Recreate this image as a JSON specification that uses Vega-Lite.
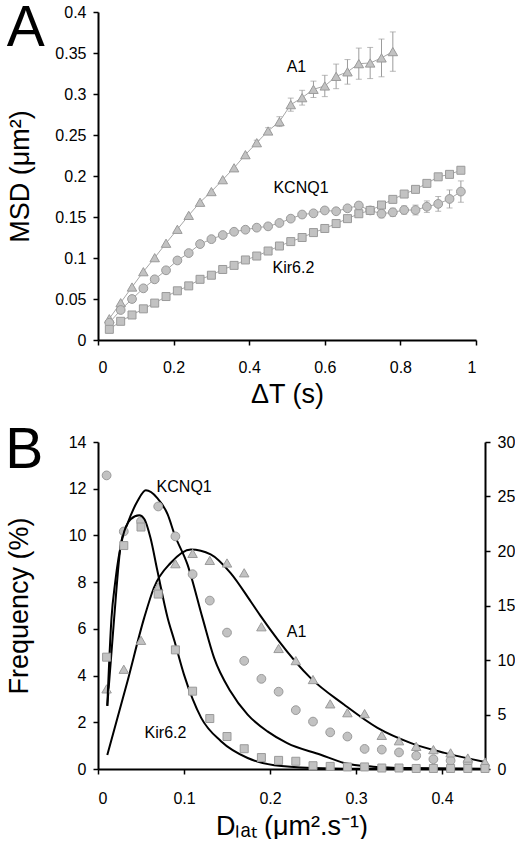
{
  "$schema": "https://vega.github.io/schema/vega-lite/v6.json",
  "background": "white",
  "padding": {"left": 5, "top": 0, "right": 0, "bottom": 0},
  "spacing": 15,
  "config": {
    "font": "Liberation Sans",
    "view": {"stroke": null},
    "axis": {
      "grid": false,
      "domainColor": "black",
      "domainWidth": 2,
      "tickColor": "black",
      "tickWidth": 1.5,
      "tickSize": 5,
      "labelFont": "Liberation Sans",
      "labelFontSize": 16,
      "labelColor": "black",
      "labelPadding": 7,
      "titleFont": "Liberation Sans",
      "titleFontSize": 27,
      "titleFontWeight": "normal",
      "titleColor": "black"
    },
    "title": {"font": "Liberation Sans", "fontSize": 57, "fontWeight": "normal", "anchor": "start", "color": "black", "frame": "bounds"},
    "text": {"font": "Liberation Sans", "fontSize": 16, "color": "black"}
  },
  "datasets": {
    "msd": [
      {"series": "A1", "t": 0.03, "msd": 0.026, "err": 0},
      {"series": "A1", "t": 0.06, "msd": 0.0455, "err": 0},
      {"series": "A1", "t": 0.09, "msd": 0.0646, "err": 0},
      {"series": "A1", "t": 0.12, "msd": 0.0833, "err": 0},
      {"series": "A1", "t": 0.15, "msd": 0.1004, "err": 0},
      {"series": "A1", "t": 0.18, "msd": 0.118, "err": 0},
      {"series": "A1", "t": 0.21, "msd": 0.135, "err": 0},
      {"series": "A1", "t": 0.24, "msd": 0.152, "err": 0},
      {"series": "A1", "t": 0.27, "msd": 0.168, "err": 0},
      {"series": "A1", "t": 0.30, "msd": 0.181, "err": 0},
      {"series": "A1", "t": 0.33, "msd": 0.1955, "err": 0},
      {"series": "A1", "t": 0.36, "msd": 0.210, "err": 0},
      {"series": "A1", "t": 0.39, "msd": 0.226, "err": 0},
      {"series": "A1", "t": 0.42, "msd": 0.2406, "err": 0.003},
      {"series": "A1", "t": 0.45, "msd": 0.2549, "err": 0.004},
      {"series": "A1", "t": 0.48, "msd": 0.2663, "err": 0.006},
      {"series": "A1", "t": 0.51, "msd": 0.287, "err": 0.008},
      {"series": "A1", "t": 0.54, "msd": 0.2955, "err": 0.009},
      {"series": "A1", "t": 0.57, "msd": 0.3057, "err": 0.010},
      {"series": "A1", "t": 0.60, "msd": 0.3098, "err": 0.013},
      {"series": "A1", "t": 0.63, "msd": 0.3215, "err": 0.015},
      {"series": "A1", "t": 0.66, "msd": 0.327, "err": 0.015},
      {"series": "A1", "t": 0.69, "msd": 0.337, "err": 0.019},
      {"series": "A1", "t": 0.72, "msd": 0.3378, "err": 0.019},
      {"series": "A1", "t": 0.75, "msd": 0.344, "err": 0.023},
      {"series": "A1", "t": 0.78, "msd": 0.3517, "err": 0.024},
      {"series": "KCNQ1", "t": 0.03, "msd": 0.021, "err": 0},
      {"series": "KCNQ1", "t": 0.06, "msd": 0.0366, "err": 0},
      {"series": "KCNQ1", "t": 0.09, "msd": 0.050, "err": 0},
      {"series": "KCNQ1", "t": 0.12, "msd": 0.063, "err": 0},
      {"series": "KCNQ1", "t": 0.15, "msd": 0.074, "err": 0},
      {"series": "KCNQ1", "t": 0.18, "msd": 0.085, "err": 0},
      {"series": "KCNQ1", "t": 0.21, "msd": 0.097, "err": 0},
      {"series": "KCNQ1", "t": 0.24, "msd": 0.106, "err": 0},
      {"series": "KCNQ1", "t": 0.27, "msd": 0.117, "err": 0},
      {"series": "KCNQ1", "t": 0.30, "msd": 0.123, "err": 0},
      {"series": "KCNQ1", "t": 0.33, "msd": 0.128, "err": 0},
      {"series": "KCNQ1", "t": 0.36, "msd": 0.132, "err": 0},
      {"series": "KCNQ1", "t": 0.39, "msd": 0.1345, "err": 0},
      {"series": "KCNQ1", "t": 0.42, "msd": 0.137, "err": 0},
      {"series": "KCNQ1", "t": 0.45, "msd": 0.1386, "err": 0},
      {"series": "KCNQ1", "t": 0.48, "msd": 0.1427, "err": 0},
      {"series": "KCNQ1", "t": 0.51, "msd": 0.148, "err": 0},
      {"series": "KCNQ1", "t": 0.54, "msd": 0.153, "err": 0},
      {"series": "KCNQ1", "t": 0.57, "msd": 0.1545, "err": 0},
      {"series": "KCNQ1", "t": 0.60, "msd": 0.158, "err": 0},
      {"series": "KCNQ1", "t": 0.63, "msd": 0.157, "err": 0},
      {"series": "KCNQ1", "t": 0.66, "msd": 0.1606, "err": 0.002},
      {"series": "KCNQ1", "t": 0.69, "msd": 0.164, "err": 0.004},
      {"series": "KCNQ1", "t": 0.72, "msd": 0.158, "err": 0.004},
      {"series": "KCNQ1", "t": 0.75, "msd": 0.154, "err": 0.005},
      {"series": "KCNQ1", "t": 0.78, "msd": 0.1557, "err": 0.005},
      {"series": "KCNQ1", "t": 0.81, "msd": 0.1585, "err": 0.005},
      {"series": "KCNQ1", "t": 0.84, "msd": 0.1585, "err": 0.006},
      {"series": "KCNQ1", "t": 0.87, "msd": 0.1626, "err": 0.007},
      {"series": "KCNQ1", "t": 0.90, "msd": 0.166, "err": 0.009},
      {"series": "KCNQ1", "t": 0.93, "msd": 0.172, "err": 0.011},
      {"series": "KCNQ1", "t": 0.96, "msd": 0.181, "err": 0.013},
      {"series": "Kir6.2", "t": 0.03, "msd": 0.013, "err": 0},
      {"series": "Kir6.2", "t": 0.06, "msd": 0.0228, "err": 0},
      {"series": "Kir6.2", "t": 0.09, "msd": 0.0305, "err": 0},
      {"series": "Kir6.2", "t": 0.12, "msd": 0.038, "err": 0},
      {"series": "Kir6.2", "t": 0.15, "msd": 0.045, "err": 0},
      {"series": "Kir6.2", "t": 0.18, "msd": 0.053, "err": 0},
      {"series": "Kir6.2", "t": 0.21, "msd": 0.060, "err": 0},
      {"series": "Kir6.2", "t": 0.24, "msd": 0.066, "err": 0},
      {"series": "Kir6.2", "t": 0.27, "msd": 0.074, "err": 0},
      {"series": "Kir6.2", "t": 0.30, "msd": 0.079, "err": 0},
      {"series": "Kir6.2", "t": 0.33, "msd": 0.086, "err": 0},
      {"series": "Kir6.2", "t": 0.36, "msd": 0.091, "err": 0},
      {"series": "Kir6.2", "t": 0.39, "msd": 0.0976, "err": 0},
      {"series": "Kir6.2", "t": 0.42, "msd": 0.1024, "err": 0},
      {"series": "Kir6.2", "t": 0.45, "msd": 0.1085, "err": 0},
      {"series": "Kir6.2", "t": 0.48, "msd": 0.1146, "err": 0},
      {"series": "Kir6.2", "t": 0.51, "msd": 0.120, "err": 0},
      {"series": "Kir6.2", "t": 0.54, "msd": 0.125, "err": 0},
      {"series": "Kir6.2", "t": 0.57, "msd": 0.131, "err": 0},
      {"series": "Kir6.2", "t": 0.60, "msd": 0.136, "err": 0},
      {"series": "Kir6.2", "t": 0.63, "msd": 0.142, "err": 0},
      {"series": "Kir6.2", "t": 0.66, "msd": 0.148, "err": 0},
      {"series": "Kir6.2", "t": 0.69, "msd": 0.154, "err": 0},
      {"series": "Kir6.2", "t": 0.72, "msd": 0.158, "err": 0},
      {"series": "Kir6.2", "t": 0.75, "msd": 0.1646, "err": 0},
      {"series": "Kir6.2", "t": 0.78, "msd": 0.1715, "err": 0},
      {"series": "Kir6.2", "t": 0.81, "msd": 0.178, "err": 0},
      {"series": "Kir6.2", "t": 0.84, "msd": 0.1837, "err": 0},
      {"series": "Kir6.2", "t": 0.87, "msd": 0.191, "err": 0},
      {"series": "Kir6.2", "t": 0.90, "msd": 0.199, "err": 0},
      {"series": "Kir6.2", "t": 0.93, "msd": 0.202, "err": 0.003},
      {"series": "Kir6.2", "t": 0.96, "msd": 0.207, "err": 0.004}
    ],
    "labelsA": [
      {"label": "A1", "t": 0.525, "msd": 0.3335},
      {"label": "KCNQ1", "t": 0.537, "msd": 0.1848},
      {"label": "Kir6.2", "t": 0.517, "msd": 0.0872}
    ],
    "freq": [
      {"series": "KCNQ1", "d": 0.01, "freq": 12.57},
      {"series": "KCNQ1", "d": 0.03, "freq": 10.17},
      {"series": "KCNQ1", "d": 0.05, "freq": 10.6},
      {"series": "KCNQ1", "d": 0.07, "freq": 11.24},
      {"series": "KCNQ1", "d": 0.09, "freq": 9.96},
      {"series": "KCNQ1", "d": 0.11, "freq": 8.34},
      {"series": "KCNQ1", "d": 0.13, "freq": 7.21},
      {"series": "KCNQ1", "d": 0.15, "freq": 5.84},
      {"series": "KCNQ1", "d": 0.17, "freq": 4.63},
      {"series": "KCNQ1", "d": 0.19, "freq": 3.86},
      {"series": "KCNQ1", "d": 0.21, "freq": 3.31},
      {"series": "KCNQ1", "d": 0.23, "freq": 2.52},
      {"series": "KCNQ1", "d": 0.25, "freq": 2.03},
      {"series": "KCNQ1", "d": 0.27, "freq": 1.57},
      {"series": "KCNQ1", "d": 0.29, "freq": 1.39},
      {"series": "KCNQ1", "d": 0.31, "freq": 0.86},
      {"series": "KCNQ1", "d": 0.33, "freq": 0.83},
      {"series": "KCNQ1", "d": 0.35, "freq": 0.71},
      {"series": "KCNQ1", "d": 0.37, "freq": 0.57},
      {"series": "KCNQ1", "d": 0.39, "freq": 0.42},
      {"series": "KCNQ1", "d": 0.41, "freq": 0.36},
      {"series": "KCNQ1", "d": 0.43, "freq": 0.28},
      {"series": "A1", "d": 0.01, "freq": 3.43},
      {"series": "A1", "d": 0.03, "freq": 4.27},
      {"series": "A1", "d": 0.05, "freq": 5.51},
      {"series": "A1", "d": 0.07, "freq": 7.8},
      {"series": "A1", "d": 0.09, "freq": 8.79},
      {"series": "A1", "d": 0.11, "freq": 9.23},
      {"series": "A1", "d": 0.13, "freq": 8.93},
      {"series": "A1", "d": 0.15, "freq": 8.82},
      {"series": "A1", "d": 0.17, "freq": 8.4},
      {"series": "A1", "d": 0.19, "freq": 6.09},
      {"series": "A1", "d": 0.21, "freq": 5.16},
      {"series": "A1", "d": 0.23, "freq": 4.64},
      {"series": "A1", "d": 0.25, "freq": 3.83},
      {"series": "A1", "d": 0.27, "freq": 2.79},
      {"series": "A1", "d": 0.29, "freq": 2.41},
      {"series": "A1", "d": 0.31, "freq": 2.37},
      {"series": "A1", "d": 0.33, "freq": 1.44},
      {"series": "A1", "d": 0.35, "freq": 1.21},
      {"series": "A1", "d": 0.37, "freq": 0.97},
      {"series": "A1", "d": 0.39, "freq": 0.83},
      {"series": "A1", "d": 0.41, "freq": 0.69},
      {"series": "A1", "d": 0.43, "freq": 0.47},
      {"series": "A1", "d": 0.45, "freq": 0.3}
    ],
    "freqKir": [
      {"series": "Kir6.2", "d": 0.01, "freq": 10.26},
      {"series": "Kir6.2", "d": 0.03, "freq": 20.5},
      {"series": "Kir6.2", "d": 0.05, "freq": 22.2},
      {"series": "Kir6.2", "d": 0.07, "freq": 16.05},
      {"series": "Kir6.2", "d": 0.09, "freq": 10.93},
      {"series": "Kir6.2", "d": 0.11, "freq": 7.14},
      {"series": "Kir6.2", "d": 0.13, "freq": 4.63},
      {"series": "Kir6.2", "d": 0.15, "freq": 2.98},
      {"series": "Kir6.2", "d": 0.17, "freq": 1.86},
      {"series": "Kir6.2", "d": 0.19, "freq": 1.05},
      {"series": "Kir6.2", "d": 0.21, "freq": 0.79},
      {"series": "Kir6.2", "d": 0.23, "freq": 0.71},
      {"series": "Kir6.2", "d": 0.25, "freq": 0.3},
      {"series": "Kir6.2", "d": 0.27, "freq": 0.24},
      {"series": "Kir6.2", "d": 0.29, "freq": 0.19},
      {"series": "Kir6.2", "d": 0.31, "freq": 0.19},
      {"series": "Kir6.2", "d": 0.33, "freq": 0.09},
      {"series": "Kir6.2", "d": 0.35, "freq": 0.09},
      {"series": "Kir6.2", "d": 0.37, "freq": 0.05},
      {"series": "Kir6.2", "d": 0.39, "freq": 0.05},
      {"series": "Kir6.2", "d": 0.41, "freq": 0.05},
      {"series": "Kir6.2", "d": 0.43, "freq": 0.05},
      {"series": "Kir6.2", "d": 0.45, "freq": 0.05}
    ],
    "fit": [
      {"series": "KCNQ1", "d": 0.0108, "freq": 2.7},
      {"series": "KCNQ1", "d": 0.0188, "freq": 6.47},
      {"series": "KCNQ1", "d": 0.0265, "freq": 9.61},
      {"series": "KCNQ1", "d": 0.034, "freq": 10.47},
      {"series": "KCNQ1", "d": 0.046, "freq": 11.47},
      {"series": "KCNQ1", "d": 0.0556, "freq": 11.93},
      {"series": "KCNQ1", "d": 0.069, "freq": 11.6},
      {"series": "KCNQ1", "d": 0.081, "freq": 10.9},
      {"series": "KCNQ1", "d": 0.089, "freq": 10.04},
      {"series": "KCNQ1", "d": 0.104, "freq": 8.76},
      {"series": "KCNQ1", "d": 0.1215, "freq": 6.47},
      {"series": "KCNQ1", "d": 0.135, "freq": 4.76},
      {"series": "KCNQ1", "d": 0.154, "freq": 3.33},
      {"series": "KCNQ1", "d": 0.174, "freq": 2.33},
      {"series": "KCNQ1", "d": 0.197, "freq": 1.61},
      {"series": "KCNQ1", "d": 0.22, "freq": 1.11},
      {"series": "KCNQ1", "d": 0.259, "freq": 0.61},
      {"series": "KCNQ1", "d": 0.286, "freq": 0.26},
      {"series": "KCNQ1", "d": 0.32, "freq": 0.1},
      {"series": "KCNQ1", "d": 0.36, "freq": 0.04},
      {"series": "KCNQ1", "d": 0.45, "freq": 0.01},
      {"series": "A1", "d": 0.0108, "freq": 0.6},
      {"series": "A1", "d": 0.0343, "freq": 3.76},
      {"series": "A1", "d": 0.0537, "freq": 6.47},
      {"series": "A1", "d": 0.065, "freq": 7.76},
      {"series": "A1", "d": 0.0847, "freq": 8.83},
      {"series": "A1", "d": 0.108, "freq": 9.4},
      {"series": "A1", "d": 0.131, "freq": 9.19},
      {"series": "A1", "d": 0.154, "freq": 8.4},
      {"series": "A1", "d": 0.178, "freq": 7.15},
      {"series": "A1", "d": 0.19, "freq": 6.5},
      {"series": "A1", "d": 0.209, "freq": 5.54},
      {"series": "A1", "d": 0.247, "freq": 3.9},
      {"series": "A1", "d": 0.286, "freq": 2.76},
      {"series": "A1", "d": 0.325, "freq": 1.76},
      {"series": "A1", "d": 0.364, "freq": 1.11},
      {"series": "A1", "d": 0.403, "freq": 0.69},
      {"series": "A1", "d": 0.45, "freq": 0.3}
    ],
    "fitKir": [
      {"series": "Kir6.2", "d": 0.0108, "freq": 5.79},
      {"series": "Kir6.2", "d": 0.0157, "freq": 13.86},
      {"series": "Kir6.2", "d": 0.02, "freq": 17.14},
      {"series": "Kir6.2", "d": 0.0285, "freq": 21.21},
      {"series": "Kir6.2", "d": 0.038, "freq": 22.91},
      {"series": "Kir6.2", "d": 0.048, "freq": 23.27},
      {"series": "Kir6.2", "d": 0.054, "freq": 22.91},
      {"series": "Kir6.2", "d": 0.061, "freq": 21.21},
      {"series": "Kir6.2", "d": 0.069, "freq": 18.21},
      {"series": "Kir6.2", "d": 0.081, "freq": 13.86},
      {"series": "Kir6.2", "d": 0.089, "freq": 11.72},
      {"series": "Kir6.2", "d": 0.1, "freq": 8.66},
      {"series": "Kir6.2", "d": 0.11, "freq": 6.43},
      {"series": "Kir6.2", "d": 0.12, "freq": 4.69},
      {"series": "Kir6.2", "d": 0.143, "freq": 2.55},
      {"series": "Kir6.2", "d": 0.174, "freq": 1.01},
      {"series": "Kir6.2", "d": 0.205, "freq": 0.34},
      {"series": "Kir6.2", "d": 0.25, "freq": 0.09},
      {"series": "Kir6.2", "d": 0.3, "freq": 0.02},
      {"series": "Kir6.2", "d": 0.45, "freq": 0}
    ],
    "labelsB": [
      {"label": "KCNQ1", "d": 0.1002, "freq": 12.09},
      {"label": "A1", "d": 0.2308, "freq": 5.87},
      {"label": "Kir6.2", "d": 0.0785, "freq": 1.54}
    ]
  },
  "vconcat": [
    {
      "width": 378,
      "height": 328,
      "title": {"text": "A", "dy": 58},
      "layer": [
        {
          "data": {"name": "msd"},
          "mark": {"type": "line", "color": "#8f8f8f", "strokeWidth": 0.8},
          "encoding": {
            "x": {"field": "t", "type": "quantitative", "scale": {"domain": [0, 1]}, "axis": {"values": [0, 0.2, 0.4, 0.6, 0.8, 1], "format": "~g", "title": "ΔT (s)", "labelPadding": 14, "titlePadding": 6}},
            "y": {"field": "msd", "type": "quantitative", "scale": {"domain": [0, 0.4]}, "axis": {"values": [0, 0.05, 0.1, 0.15, 0.2, 0.25, 0.3, 0.35, 0.4], "format": "~g", "title": "MSD (μm²)", "titlePadding": 20}},
            "detail": {"field": "series"}
          }
        },
        {
          "data": {"name": "msd"},
          "transform": [{"filter": "datum.err > 0"}],
          "mark": {"type": "errorbar", "color": "#9c9c9c", "ticks": {"size": 6, "color": "#9c9c9c"}, "thickness": 1},
          "encoding": {
            "x": {"field": "t", "type": "quantitative"},
            "y": {"field": "msd", "type": "quantitative", "title": "MSD (μm²)"},
            "yError": {"field": "err"}
          }
        },
        {
          "data": {"name": "msd"},
          "mark": {"type": "point", "filled": true, "fill": "#c2c2c2", "stroke": "#9a9a9a", "strokeWidth": 1, "opacity": 1, "fillOpacity": 1},
          "encoding": {
            "x": {"field": "t", "type": "quantitative"},
            "y": {"field": "msd", "type": "quantitative"},
            "shape": {"field": "series", "type": "nominal", "scale": {"domain": ["A1", "KCNQ1", "Kir6.2"], "range": ["triangle-up", "circle", "square"]}, "legend": null},
            "size": {"field": "series", "type": "nominal", "scale": {"domain": ["A1", "KCNQ1", "Kir6.2"], "range": [90, 64, 64]}, "legend": null}
          }
        },
        {
          "data": {"name": "labelsA"},
          "mark": {"type": "text", "align": "center", "baseline": "middle", "fontSize": 16},
          "encoding": {
            "x": {"field": "t", "type": "quantitative"},
            "y": {"field": "msd", "type": "quantitative"},
            "text": {"field": "label"}
          }
        }
      ]
    },
    {
      "width": 387,
      "height": 327,
      "title": {"text": "B", "dy": 50},
      "layer": [
        {
          "layer": [
            {
              "data": {"name": "fit"},
              "mark": {"type": "line", "color": "black", "strokeWidth": 2, "interpolate": "monotone"},
              "encoding": {
                "x": {"field": "d", "type": "quantitative", "scale": {"domain": [0, 0.45]}, "axis": {"values": [0, 0.1, 0.2, 0.3, 0.4], "format": "~g", "title": "Dₗₐₜ (μm².s⁻¹)", "labelPadding": 16, "titlePadding": 7}},
                "y": {"field": "freq", "type": "quantitative", "scale": {"domain": [0, 14]}, "axis": {"values": [0, 2, 4, 6, 8, 10, 12, 14], "title": "Frequency (%)", "titlePadding": 35}},
                "detail": {"field": "series"}
              }
            },
            {
              "data": {"name": "freq"},
              "mark": {"type": "point", "filled": true, "fill": "#c2c2c2", "stroke": "#9a9a9a", "strokeWidth": 1, "opacity": 1, "fillOpacity": 1},
              "encoding": {
                "x": {"field": "d", "type": "quantitative", "scale": {"domain": [0, 0.45]}, "axis": {"values": [0, 0.1, 0.2, 0.3, 0.4], "format": "~g", "title": "Dₗₐₜ (μm².s⁻¹)", "labelPadding": 16, "titlePadding": 7}},
                "y": {"field": "freq", "type": "quantitative", "scale": {"domain": [0, 14]}, "axis": {"values": [0, 2, 4, 6, 8, 10, 12, 14], "title": "Frequency (%)", "titlePadding": 35}},
                "shape": {"field": "series", "type": "nominal", "scale": {"domain": ["A1", "KCNQ1", "Kir6.2"], "range": ["triangle-up", "circle", "square"]}, "legend": null},
                "size": {"field": "series", "type": "nominal", "scale": {"domain": ["A1", "KCNQ1", "Kir6.2"], "range": [110, 90, 85]}, "legend": null}
              }
            },
            {
              "data": {"name": "labelsB"},
              "mark": {"type": "text", "align": "center", "baseline": "middle", "fontSize": 16},
              "encoding": {
                "x": {"field": "d", "type": "quantitative", "scale": {"domain": [0, 0.45]}, "axis": {"values": [0, 0.1, 0.2, 0.3, 0.4], "format": "~g", "title": "Dₗₐₜ (μm².s⁻¹)", "labelPadding": 16, "titlePadding": 7}},
                "y": {"field": "freq", "type": "quantitative", "scale": {"domain": [0, 14]}, "axis": {"values": [0, 2, 4, 6, 8, 10, 12, 14], "title": "Frequency (%)", "titlePadding": 35}},
                "text": {"field": "label"}
              }
            }
          ]
        },
        {
          "layer": [
            {
              "data": {"name": "fitKir"},
              "mark": {"type": "line", "color": "black", "strokeWidth": 2, "interpolate": "monotone"},
              "encoding": {
                "x": {"field": "d", "type": "quantitative", "scale": {"domain": [0, 0.45]}, "axis": {"values": [0, 0.1, 0.2, 0.3, 0.4], "format": "~g", "title": "Dₗₐₜ (μm².s⁻¹)", "labelPadding": 16, "titlePadding": 7}},
                "y": {"field": "freq", "type": "quantitative", "scale": {"domain": [0, 30]}, "axis": {"orient": "right", "values": [0, 5, 10, 15, 20, 25, 30], "title": null}}
              }
            },
            {
              "data": {"name": "freqKir"},
              "mark": {"type": "point", "filled": true, "fill": "#c2c2c2", "stroke": "#9a9a9a", "strokeWidth": 1, "opacity": 1, "fillOpacity": 1},
              "encoding": {
                "x": {"field": "d", "type": "quantitative", "scale": {"domain": [0, 0.45]}, "axis": {"values": [0, 0.1, 0.2, 0.3, 0.4], "format": "~g", "title": "Dₗₐₜ (μm².s⁻¹)", "labelPadding": 16, "titlePadding": 7}},
                "y": {"field": "freq", "type": "quantitative", "scale": {"domain": [0, 30]}, "axis": {"orient": "right", "values": [0, 5, 10, 15, 20, 25, 30], "title": null}},
                "shape": {"field": "series", "type": "nominal", "scale": {"domain": ["A1", "KCNQ1", "Kir6.2"], "range": ["triangle-up", "circle", "square"]}, "legend": null},
                "size": {"field": "series", "type": "nominal", "scale": {"domain": ["A1", "KCNQ1", "Kir6.2"], "range": [110, 90, 85]}, "legend": null}
              }
            }
          ]
        }
      ],
      "resolve": {"scale": {"y": "independent"}}
    }
  ]
}
